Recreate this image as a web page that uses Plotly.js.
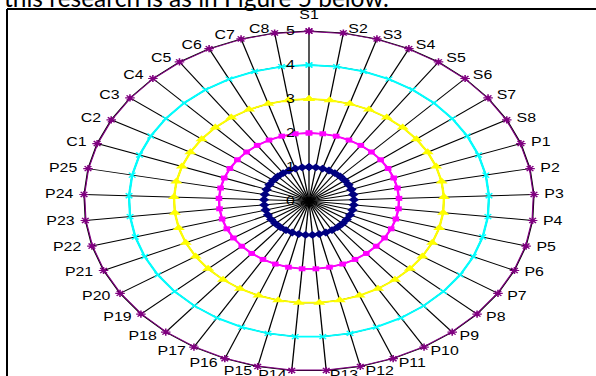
<!DOCTYPE html>
<html>
<head>
<meta charset="utf-8">
<script src="https://cdn.plot.ly/plotly-3.0.1.min.js"></script>
<style>
  html, body { margin: 0; padding: 0; background: #ffffff; overflow: hidden; }
  #wrap { position: relative; width: 596px; height: 376px; overflow: hidden; }
  #chart { position: absolute; left: 0; top: 0; width: 450px; height: 376px;
           transform: scaleX(1.32444); transform-origin: 0 0; }
  #overlay { position: absolute; left: 0; top: 0; width: 596px; height: 376px; pointer-events: none; }
</style>
</head>
<body>
<div id="wrap">
  <div id="chart"></div>
  <div id="overlay"></div>
</div>
<script>
// ---- data ----
const categories = ["S1","S2","S3","S4","S5","S6","S7","S8",
  "P1","P2","P3","P4","P5","P6","P7","P8","P9","P10","P11","P12","P13","P14","P15","P16","P17","P18","P19","P20","P21","P22","P23","P24","P25",
  "C1","C2","C3","C4","C5","C6","C7","C8"];
const series1 = [1,1,1,1,1,1,1,1,1,1,1,1,1,1,1,1,1,1,1,1,1,1,1,1,1,1,1,1,1,1,1,1,1,1,1,1,1,1,1,1,1];
const series2 = [2,2,2,2,2,2,2,2,2,2,2,2,2,2,2,2,2,2,2,2,2,2,2,2,2,2,2,2,2,2,2,2,2,2,2,2,2,2,2,2,2];
const series3 = [3,3,3,3,3,3,3,3,3,3,3,3,3,3,3,3,3,3,3,3,3,3,3,3,3,3,3,3,3,3,3,3,3,3,3,3,3,3,3,3,3];
const series4 = [4,4,4,4,4,4,4,4,4,4,4,4,4,4,4,4,4,4,4,4,4,4,4,4,4,4,4,4,4,4,4,4,4,4,4,4,4,4,4,4,4];
const series5 = [5,5,5,5,5,5,5,5,5,5,5,5,5,5,5,5,5,5,5,5,5,5,5,5,5,5,5,5,5,5,5,5,5,5,5,5,5,5,5,5,5];
const radialTicks = [0,1,2,3,4,5];
const captionText = "this research is as in Figure 5 below.";

// ---- geometry / styles ----
const W = 450, H = 376;           // chart div size before horizontal stretch
const SX = 1.32444;               // horizontal stretch of the chart picture
const dom = {x: [0.1407, 0.8962], y: [0.0133, 0.9176]};
const styles = [
  {vals: series1, color: "#000080", symbol: "diamond", size: 6, lw: 0},
  {vals: series2, color: "#FF00FF", symbol: "square", size: 5, lw: 0},
  {vals: series3, color: "#FFFF00", symbol: "triangle-up", size: 8, lw: 0},
  {vals: series4, color: "#00FFFF", symbol: "x-thin", size: 5, lw: 1.2},
  {vals: series5, color: "#800080", symbol: "asterisk", size: 6, lw: 1.2}
];

const traces = styles.map(function (s, i) {
  return {
    type: "scatterpolar",
    mode: "lines+markers",
    name: "Series" + (i + 1),
    r: s.vals.concat([s.vals[0]]),
    theta: categories.concat([categories[0]]),
    line: {color: s.color, width: 1.8},
    marker: {symbol: s.symbol, size: s.size, color: s.color,
             line: {color: s.color, width: s.lw}},
    cliponaxis: false,
    hoverinfo: "skip"
  };
});

// category labels round the outer ring, placed the way the spreadsheet did
const N = categories.length;
const cxP = (dom.x[0] + dom.x[1]) / 2;          // paper fraction
const cyP = (dom.y[0] + dom.y[1]) / 2;
const rxP = (dom.x[1] - dom.x[0]) / 2;
const ryP = (dom.y[1] - dom.y[0]) / 2;
const labelAnnotations = categories.map(function (name, i) {
  const a = 2 * Math.PI * i / N;
  const s = Math.sin(a), c = Math.cos(a);
  const ann = {
    text: name, xref: "paper", yref: "paper",
    x: cxP + rxP * s, y: cyP + ryP * c,
    showarrow: false, borderpad: 0, yanchor: "middle",
    font: {family: "Liberation Sans, Arial, sans-serif", size: 12, color: "#000000"}
  };
  if (Math.abs(s) < 1e-6) {
    ann.xanchor = "center";
    ann.yshift = 16 * (c > 0 ? 1 : -1);
  } else {
    const gap = (2 + 7 * Math.abs(s)) / SX;
    ann.xanchor = s > 0 ? "left" : "right";
    ann.xshift = s > 0 ? gap : -gap;
    ann.yshift = 4.5 * c;
  }
  return ann;
});

const layout = {
  width: W, height: H,
  margin: {l: 0, r: 0, t: 0, b: 0},
  paper_bgcolor: "rgba(0,0,0,0)",
  showlegend: false,
  annotations: labelAnnotations,
  polar: {
    domain: dom,
    bgcolor: "rgba(0,0,0,0)",
    gridshape: "linear",
    angularaxis: {
      type: "category",
      categoryarray: categories,
      direction: "clockwise",
      rotation: 90,
      layer: "below traces",
      showgrid: true, gridcolor: "#000000", gridwidth: 1,
      showline: true, linecolor: "#000000", linewidth: 1,
      ticks: "", showticklabels: false
    },
    radialaxis: {
      range: [0, 5],
      tickvals: radialTicks,
      ticktext: radialTicks.map(String),
      angle: 90,
      tickangle: 90,
      side: "counterclockwise",
      layer: "above traces",
      showgrid: true, gridcolor: "#000000", gridwidth: 1,
      showline: false,
      ticks: "outside", ticklen: 6, tickcolor: "rgba(0,0,0,0)",
      tickfont: {family: "Liberation Sans, Arial, sans-serif", size: 12, color: "#000000"}
    }
  }
};

Plotly.newPlot("chart", traces, layout, {staticPlot: true, displayModeBar: false});

// ---- overlay: page caption and frame ----
let capSize = 20;
try {
  const c = document.createElement("canvas").getContext("2d");
  c.font = "20px Lato";
  const w = c.measureText(captionText).width;
  if (w > 0) capSize = 20 * 385 / w;
} catch (e) {}

const overlayLayout = {
  width: 596, height: 376,
  margin: {l: 0, r: 0, t: 0, b: 0},
  paper_bgcolor: "rgba(0,0,0,0)",
  plot_bgcolor: "rgba(0,0,0,0)",
  xaxis: {visible: false, range: [0, 1], fixedrange: true},
  yaxis: {visible: false, range: [0, 1], fixedrange: true},
  showlegend: false,
  shapes: [
    {type: "line", xref: "paper", yref: "paper", x0: 7/596, x1: 1, y0: 1 - 9/376, y1: 1 - 9/376,
     line: {color: "#000000", width: 2}},
    {type: "line", xref: "paper", yref: "paper", x0: 7/596, x1: 7/596, y0: 1 - 9/376, y1: 0,
     line: {color: "#000000", width: 2}}
  ],
  annotations: [
    {text: captionText, xref: "paper", yref: "paper", x: 2/596, y: 1 - 14/376,
     xanchor: "left", yanchor: "bottom", showarrow: false,
     font: {family: "Lato, Open Sans, sans-serif", size: capSize, color: "#000000"}}
  ]
};
Plotly.newPlot("overlay", [], overlayLayout, {staticPlot: true, displayModeBar: false});
</script>
</body>
</html>
